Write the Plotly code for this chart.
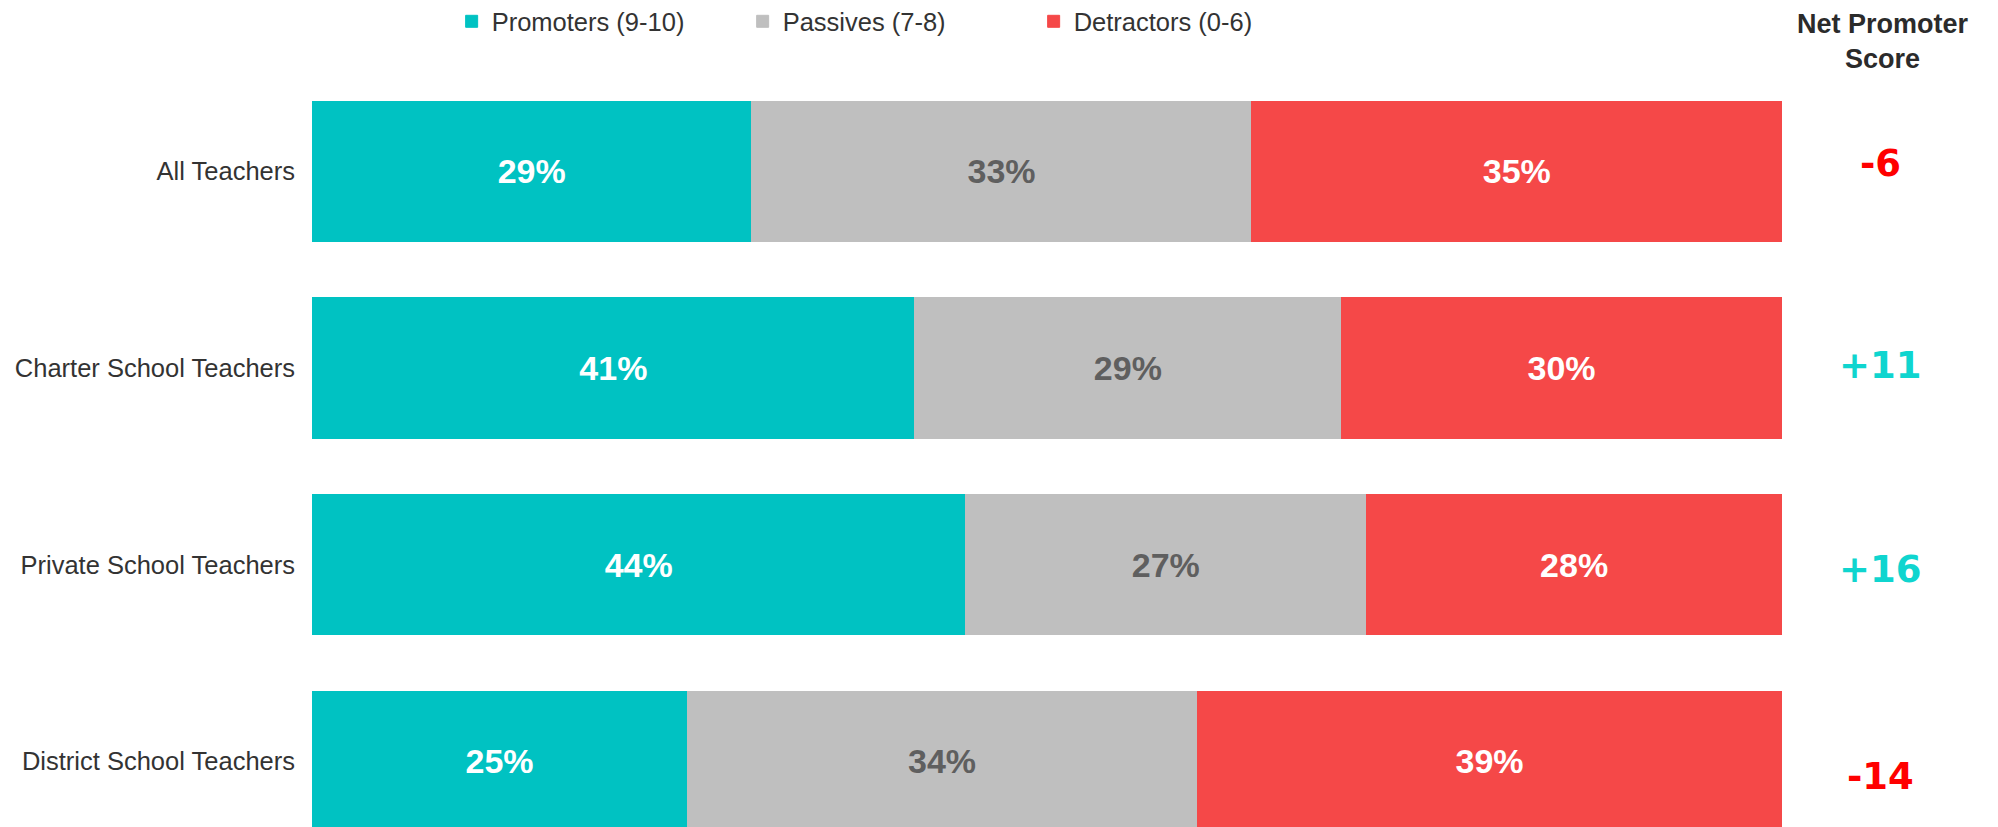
import plotly.graph_objects as go

categories = ["All Teachers", "Charter School Teachers", "Private School Teachers", "District School Teachers"]
promoters = [29, 41, 44, 25]
passives = [33, 29, 27, 34]
detractors = [35, 30, 28, 39]
nps = ["-6", "+11", "+16", "-14"]

series = [
    ("Promoters (9-10)", promoters, "#00C2C2", "#FFFFFF"),
    ("Passives (7-8)", passives, "#BFBFBF", "#5F5F5F"),
    ("Detractors (0-6)", detractors, "#F54848", "#FFFFFF"),
]

fig = go.Figure()
for name, vals, color, tcolor in series:
    fig.add_trace(go.Bar(
        y=categories, x=vals, name=name, orientation="h",
        marker=dict(color=color, line=dict(width=1, color=color)),
        text=[f"{v}%" for v in vals], textposition="inside",
        insidetextanchor="middle", textangle=0, constraintext="none",
        textfont=dict(family="Liberation Sans", size=34, color=tcolor, weight="bold"),
        width=0.712, hoverinfo="skip",
    ))

# vertical nudges of the NPS labels, as placed in the original slide
nps_shift = [8, 2, -5, -15]
for cat, score, dy in zip(categories, nps, nps_shift):
    col = "#FF0000" if score.startswith("-") else "#0FD5CF"
    fig.add_annotation(
        x=1.067, xref="paper", y=cat, yref="y", yshift=dy, text=score, showarrow=False,
        xanchor="center", yanchor="middle",
        font=dict(family="DejaVu Sans", size=37, color=col, weight="bold"),
    )

fig.add_annotation(
    x=1.069, xref="paper", y=1.042, yref="paper",
    text="Net Promoter<br>Score", showarrow=False, xanchor="center", yanchor="middle",
    font=dict(family="Liberation Sans", size=27, color="#2B2B2B", weight="bold"),
)

fig.update_layout(
    width=1998, height=827,
    margin=dict(l=304, r=224, t=65, b=8, autoexpand=False),
    barmode="stack", barnorm="percent",
    plot_bgcolor="white", paper_bgcolor="white",
    showlegend=True,
    legend=dict(
        orientation="h", x=0.095, xanchor="left", y=1.068, yanchor="middle",
        traceorder="normal",
        font=dict(family="Liberation Sans", size=25.5, color="#333333"),
        entrywidth=246, entrywidthmode="pixels", itemclick=False,
    ),
    xaxis=dict(range=[0, 100], visible=False, fixedrange=True),
    yaxis=dict(
        range=[3.334, -0.5], showgrid=False, zeroline=False, showline=False,
        ticks="", ticklabelstandoff=16, automargin=False,
        tickfont=dict(family="Liberation Sans", size=25.5, color="#333333"),
        fixedrange=True,
    ),
)

fig.write_html("out.html")
